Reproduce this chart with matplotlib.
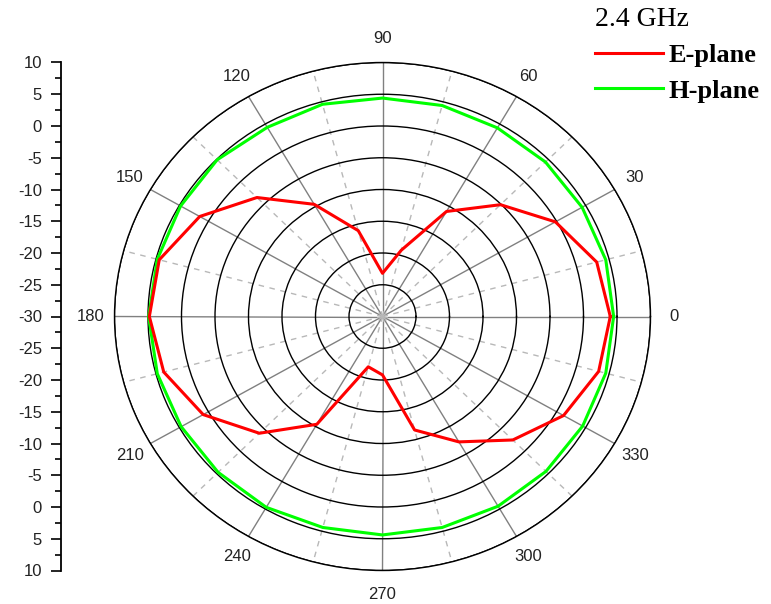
import numpy as np
import matplotlib
matplotlib.use('Agg')
import matplotlib.pyplot as plt
from matplotlib.ticker import MultipleLocator

# angles in degrees, gain in dB
angles = [0, 15, 30, 45, 60, 75, 90, 105, 120, 135, 150, 165, 180,
          195, 210, 225, 240, 255, 270, 285, 300, 315, 330, 345, 360]
e_plane = [4.0, 3.1, -0.2, -5.1, -10.9, -19.2, -23.2, -16.0, -9.6, -3.5, 1.5, 4.5, 4.8,
           3.8, 0.9, -4.0, -10.4, -21.8, -20.8, -11.5, -7.2, -2.5, 1.2, 3.4, 4.0]
h_plane = [4.5, 4.5, 4.4, 4.4, 4.3, 4.4, 4.4, 4.6, 4.4, 4.9, 4.8, 4.8, 4.9,
           4.8, 4.7, 4.7, 4.7, 4.4, 4.4, 4.4, 4.5, 4.5, 4.5, 4.5, 4.5]

r_min, r_max = -30, 10
theta_labels = ['0', '30', '60', '90', '120', '150', '180', '210', '240', '270', '300', '330']

plt.rcParams['font.family'] = ['Liberation Sans', 'DejaVu Sans']

fig = plt.figure(figsize=(7.71, 6.04), dpi=100)
fig.patch.set_facecolor('white')

# polar plot (slightly elliptical like the original)
ax = fig.add_axes([114.5/771, (604-570.5)/604, 536/771, 508/604], projection='polar')
ax.set_aspect('auto')
ax.set_ylim(r_min, r_max)

th = np.deg2rad(angles)
ax.plot(th, e_plane, color='#ff0000', lw=2.2, label='E-plane', zorder=5)
ax.plot(th, h_plane, color='#00ff00', lw=2.2, label='H-plane', zorder=4)

ax.set_yticks(np.arange(-25, 11, 5))
ax.set_yticklabels([])
ax.yaxis.grid(True, color='black', lw=1.0, ls='-')

ax.set_xticks(np.deg2rad(np.arange(0, 360, 30)))
ax.set_xticklabels(theta_labels)
ax.set_xticks(np.deg2rad(np.arange(15, 360, 30)), minor=True)
ax.xaxis.grid(True, which='major', color='#808080', lw=1.0, ls='-')
ax.xaxis.grid(True, which='minor', color='#b8b8b8', lw=1.0, ls=(0, (4, 4)))
ax.tick_params(axis='x', which='major', direction='in', length=6, width=1.0,
               pad=10, labelsize=12, labelcolor='#222222')
ax.tick_params(axis='x', which='minor', direction='in', length=3, width=1.0)
ax.spines['polar'].set_color('black')
ax.spines['polar'].set_linewidth(1.0)

# separate radial scale on the left
ax2 = fig.add_axes([60.7/771, (604-570.5)/604, 0.0005, 508/604])
ax2.set_ylim(-40, 40)
for s in ['top', 'right', 'bottom']:
    ax2.spines[s].set_visible(False)
ax2.spines['left'].set_linewidth(1.3)
ax2.set_xticks([])
ticks = np.arange(-40, 41, 5)
ax2.set_yticks(ticks)
ax2.set_yticklabels([str(abs(t) + r_min) for t in ticks])
ax2.yaxis.set_minor_locator(MultipleLocator(2.5))
ax2.tick_params(axis='y', which='major', length=7.5, width=1.2, pad=6,
                labelsize=12, labelcolor='#222222')
ax2.tick_params(axis='y', which='minor', length=4, width=1.2)

leg = fig.legend(loc='upper left', bbox_to_anchor=(584/771, 1.006), frameon=False,
                 title='2.4 GHz', alignment='left', handlelength=2.6,
                 handletextpad=0.2, labelspacing=0.45, borderaxespad=0.0,
                 prop={'family': 'Liberation Serif', 'weight': 'bold', 'size': 19})
leg.get_title().set_fontfamily('Liberation Serif')
leg.get_title().set_fontsize(20)

fig.savefig('out.png', dpi=100, facecolor='white')
